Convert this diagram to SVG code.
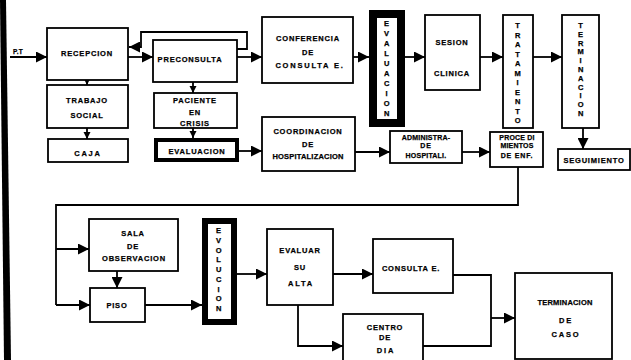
<svg xmlns="http://www.w3.org/2000/svg" width="631" height="360" viewBox="0 0 631 360">
<style>
.b{fill:#fff;stroke:#000;stroke-width:1.8}
.k{fill:#fff;stroke:#000}
.c{fill:none;stroke:#000;stroke-width:1.8}
.t{font-family:"Liberation Sans",Arial,sans-serif;font-weight:bold;font-size:7.5px;letter-spacing:0.8px;text-anchor:middle;fill:#000;stroke:#000;stroke-width:0.25px}
.n{letter-spacing:0.2px}
.w{letter-spacing:1.8px}
</style>
<defs>
<marker id="ah" viewBox="0 0 10 10" refX="10" refY="5" markerWidth="12" markerHeight="11" markerUnits="userSpaceOnUse" orient="auto"><path d="M0,0 L10,5 L0,10 z" fill="#000"/></marker>
<marker id="as" viewBox="0 0 10 10" refX="10" refY="5" markerWidth="7" markerHeight="8" markerUnits="userSpaceOnUse" orient="auto"><path d="M0,0 L10,5 L0,10 z" fill="#000"/></marker>
</defs>
<rect width="631" height="360" fill="#fff"/>
<polygon points="0,0 6,0 11,360 4,360" fill="#000"/>

<g id="connectors">
<line class="c" x1="10" y1="57" x2="47" y2="57" marker-end="url(#ah)"/>
<line class="c" x1="128" y1="57" x2="153" y2="57" marker-end="url(#ah)"/>
<polyline class="c" points="237,49 247,49 247,32 141,32 141,47 129,47" marker-end="url(#ah)"/>
<line class="c" x1="237" y1="57" x2="262" y2="57" marker-end="url(#ah)"/>
<line class="c" x1="87" y1="80" x2="87" y2="85" marker-end="url(#as)"/>
<line class="c" x1="87" y1="128" x2="87" y2="139" marker-end="url(#as)"/>
<line class="c" x1="193" y1="82" x2="193" y2="93" marker-end="url(#as)"/>
<line class="c" x1="193" y1="128" x2="193" y2="138" marker-end="url(#as)"/>
<line class="c" x1="239" y1="151" x2="262" y2="151" marker-end="url(#ah)"/>
<line class="c" x1="353" y1="57" x2="369" y2="57" marker-end="url(#ah)"/>
<line class="c" x1="405" y1="57" x2="425" y2="57" marker-end="url(#ah)"/>
<line class="c" x1="480" y1="57" x2="503" y2="57" marker-end="url(#ah)"/>
<line class="c" x1="533" y1="57" x2="562" y2="57" marker-end="url(#ah)"/>
<line class="c" x1="583" y1="128" x2="583" y2="149" marker-end="url(#ah)"/>
<line class="c" x1="355" y1="152" x2="390" y2="152" marker-end="url(#ah)"/>
<line class="c" x1="462" y1="152" x2="490" y2="152" marker-end="url(#ah)"/>
<polyline class="c" points="518,167 518,205 56,205 56,305"/>
<line class="c" x1="56" y1="249" x2="89" y2="249" marker-end="url(#ah)"/>
<line class="c" x1="56" y1="305" x2="90" y2="305" marker-end="url(#ah)"/>
<line class="c" x1="117" y1="271" x2="117" y2="288" marker-end="url(#ah)"/>
<line class="c" x1="145" y1="305" x2="202" y2="305" marker-end="url(#ah)"/>
<line class="c" x1="237" y1="274" x2="267" y2="274" marker-end="url(#ah)"/>
<line class="c" x1="333" y1="274" x2="373" y2="274" marker-end="url(#ah)"/>
<polyline class="c" points="298,305 298,346 343,346" marker-end="url(#ah)"/>
<polyline class="c" points="453,275 491,275 491,346 423,346"/>
<line class="c" x1="491" y1="318" x2="515" y2="318" marker-end="url(#ah)"/>
</g>

<text class="t n" x="13" y="54" style="text-anchor:start;font-size:6.5px">P.T</text>

<g id="recepcion"><rect class="b" x="47" y="28" width="81" height="52"/><text class="t" x="87" y="56">RECEPCION</text></g>
<g id="preconsulta"><rect class="b" x="153" y="40" width="84" height="42"/><text class="t" x="190" y="62">PRECONSULTA</text></g>
<g id="conferencia"><rect class="b" x="262" y="17" width="91" height="66"/><text class="t" x="308" y="41">CONFERENCIA</text><text class="t" x="308" y="55">DE</text><text class="t w" x="310" y="68">CONSULTA E.</text></g>
<g id="trabajo"><rect class="b" x="47" y="85" width="81" height="43"/><text class="t" x="87" y="103">TRABAJO</text><text class="t" x="87" y="118">SOCIAL</text></g>
<g id="caja"><rect class="b" x="48" y="139" width="80" height="23"/><text class="t w" x="88" y="156">CAJA</text></g>
<g id="paciente"><rect class="b" x="154" y="93" width="83" height="35"/><text class="t" x="195" y="103">PACIENTE</text><text class="t" x="195" y="115">EN</text><text class="t" x="195" y="126">CRISIS</text></g>
<g id="evaluacion1"><rect class="k" x="156" y="140" width="81" height="20" stroke-width="4"/><text class="t" x="197" y="154">EVALUACION</text></g>
<g id="coordinacion"><rect class="b" x="262" y="117" width="93" height="54"/><text class="t" x="308" y="134">COORDINACION</text><text class="t" x="308" y="147">DE</text><text class="t n" x="308" y="159">HOSPITALIZACION</text></g>
<g id="evaluacion2"><rect class="k" x="373" y="14" width="28" height="109" stroke-width="8"/>
<text class="t" x="387" y="26">E<tspan x="387" dy="10">V</tspan><tspan x="387" dy="10">A</tspan><tspan x="387" dy="10">L</tspan><tspan x="387" dy="10">U</tspan><tspan x="387" dy="10">A</tspan><tspan x="387" dy="10">C</tspan><tspan x="387" dy="10">I</tspan><tspan x="387" dy="10">O</tspan><tspan x="387" dy="10">N</tspan></text></g>
<g id="sesion"><rect class="b" x="425" y="15" width="55" height="75"/><text class="t" x="452" y="45">SESION</text><text class="t" x="452" y="76">CLINICA</text></g>
<g id="tratamiento"><rect class="b" x="503" y="15" width="30" height="113"/>
<text class="t" x="518" y="28">T<tspan x="518" dy="9.5">R</tspan><tspan x="518" dy="9.5">A</tspan><tspan x="518" dy="9.5">T</tspan><tspan x="518" dy="9.5">A</tspan><tspan x="518" dy="9.5">M</tspan><tspan x="518" dy="9.5">I</tspan><tspan x="518" dy="9.5">E</tspan><tspan x="518" dy="9.5">N</tspan><tspan x="518" dy="9.5">T</tspan><tspan x="518" dy="9.5">O</tspan></text></g>
<g id="terminacion"><rect class="b" x="562" y="15" width="37" height="113"/>
<text class="t" x="581" y="28">T<tspan x="581" dy="8.8">E</tspan><tspan x="581" dy="8.8">R</tspan><tspan x="581" dy="8.8">M</tspan><tspan x="581" dy="8.8">I</tspan><tspan x="581" dy="8.8">N</tspan><tspan x="581" dy="8.8">A</tspan><tspan x="581" dy="8.8">C</tspan><tspan x="581" dy="8.8">I</tspan><tspan x="581" dy="8.8">O</tspan><tspan x="581" dy="8.8">N</tspan></text></g>
<g id="seguimiento"><rect class="b" x="558" y="149" width="72" height="21"/><text class="t" x="594" y="163">SEGUIMIENTO</text></g>
<g id="administra"><rect class="b" x="390" y="131" width="72" height="32"/><text class="t n" x="426" y="140" style="font-size:7px">ADMINISTRA-</text><text class="t" x="426" y="148" style="font-size:7px">DE</text><text class="t n" x="426" y="158" style="font-size:7px">HOSPITALI.</text></g>
<g id="procedimientos"><rect class="b" x="490" y="132" width="53" height="35"/><text class="t n" x="517" y="140" style="font-size:7px">PROCE DI</text><text class="t n" x="517" y="148" style="font-size:7px">MIENTOS</text><text class="t" x="517" y="158" style="font-size:7px">DE ENF.</text></g>
<g id="sala"><rect class="b" x="89" y="219" width="89" height="52"/><text class="t" x="133" y="236">SALA</text><text class="t" x="133" y="249">DE</text><text class="t" x="134" y="261">OBSERVACION</text></g>
<g id="piso"><rect class="b" x="90" y="288" width="55" height="34"/><text class="t" x="117" y="308">PISO</text></g>
<g id="evolucion"><rect class="k" x="205" y="221" width="29" height="101" stroke-width="6"/>
<text class="t" x="219" y="233">E<tspan x="219" dy="9.75">V</tspan><tspan x="219" dy="9.75">O</tspan><tspan x="219" dy="9.75">L</tspan><tspan x="219" dy="9.75">U</tspan><tspan x="219" dy="9.75">C</tspan><tspan x="219" dy="9.75">I</tspan><tspan x="219" dy="9.75">O</tspan><tspan x="219" dy="9.75">N</tspan></text></g>
<g id="evaluar"><rect class="b" x="267" y="229" width="66" height="76"/><text class="t" x="300" y="253">EVALUAR</text><text class="t" x="300" y="270">SU</text><text class="t w" x="301" y="286">ALTA</text></g>
<g id="consulta"><rect class="b" x="373" y="239" width="80" height="54"/><text class="t" x="411" y="271">CONSULTA E.</text></g>
<g id="centro"><rect class="b" x="343" y="314" width="80" height="50"/><text class="t" x="385" y="330">CENTRO</text><text class="t" x="385" y="340">DE</text><text class="t w" x="386" y="353">DIA</text></g>
<g id="terminacion-caso"><rect class="b" x="515" y="273" width="97" height="86"/><text class="t n" x="565" y="305">TERMINACION</text><text class="t w" x="566" y="323">DE</text><text class="t w" x="566" y="337">CASO</text></g>
</svg>
